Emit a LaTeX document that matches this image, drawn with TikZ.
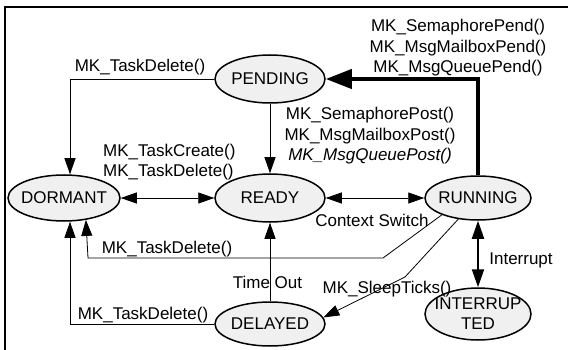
\documentclass[tikz,border=0pt]{standalone}
\usepackage{fontspec}
\setmainfont{Liberation Sans}
\usetikzlibrary{arrows.meta,shapes.geometric,calc}
\newcommand\ctrbox[1]{\makebox[0pt]{#1}}
\begin{document}
\begin{tikzpicture}[x=1pt,y=-1pt,
  state/.style={ellipse,draw,line width=1.5pt,fill=black!6,inner sep=0pt,font=\fontsize{17}{20}\selectfont},
  lbl/.style={font=\fontsize{17}{20.5}\selectfont,inner sep=0pt,align=center},
  conn/.style={line width=0.8pt,-{Triangle[length=16pt,width=11pt]}},
  dbl/.style={line width=0.8pt,{Triangle[length=16pt,width=11pt]}-{Triangle[length=16pt,width=11pt]}},
  intarr/.style={line width=2pt,{Triangle[length=18pt,width=12pt]}-{Triangle[length=18pt,width=12pt]}},
  thickarr/.style={line width=4pt,-{Triangle[length=26pt,width=19pt]}}]
\useasboundingbox (0,0) rectangle (568,350);
\draw[line width=1.5pt] (568,7) -- (5,7) -- (5,350);

\node[state,minimum width=110pt,minimum height=48pt] (pend) at (270,79) {\ctrbox{PENDING}};
\node[state,minimum width=112pt,minimum height=46pt] (dorm) at (64,198) {\ctrbox{DORMANT}};
\node[state,minimum width=110pt,minimum height=48pt] (ready) at (270,198) {\ctrbox{READY}};
\node[state,minimum width=106pt,minimum height=44pt] (run) at (478,198) {\ctrbox{RUNNING}};
\node[state,minimum width=106pt,minimum height=52pt,align=center] (intr) at (478,314) {\ctrbox{INTERRUP}\\\ctrbox{TED}};
\node[state,minimum width=110pt,minimum height=44pt] (del) at (270,324) {\ctrbox{DELAYED}};

\coordinate (b1) at (383,258);
\coordinate (b2) at (88,258);
\coordinate (b3) at (405,277);

\draw[conn] (pend.west) -| ($(dorm.north)+(6,0)$);
\draw[conn] (pend.south) -- (ready.north);
\draw[thickarr] (run.north) -- (run.north |- pend.east) -- (pend.east);
\draw[dbl] (dorm.east) -- (ready.west);
\draw[dbl] (ready.east) -- (run.west);
\draw[conn] (run.-155) -- (b1) -- (b2) -- (dorm.-45);
\draw[conn] (run.-133) -- (b3) -- (del.7);
\draw[conn] (del.north) -- (ready.south);
\draw[conn] (del.west) -| ($(dorm.south)+(6,0)$);
\draw[intarr] (run.south) -- (intr.north);

\node[lbl] (t1) at (140,67) {MK\_TaskDelete()};
\node[lbl] (t2) at (458,48) {MK\_SemaphorePend()\\MK\_MsgMailboxPend()\\MK\_MsgQueuePend()};
\node[lbl] (t3) at (370,136) {MK\_SemaphorePost()\\MK\_MsgMailboxPost()\\{\itshape MK\_MsgQueuePost()}};
\node[lbl,align=left,anchor=west] (t4) at (103,162) {MK\_TaskCreate()\\MK\_TaskDelete()};
\node[lbl] (t5) at (372,220) {Context Switch};
\node[lbl] (t6) at (167,249) {MK\_TaskDelete()};
\node[lbl] (t7) at (267.5,282) {Time Out};
\node[lbl] (t8) at (387,289) {MK\_SleepTicks()};
\node[lbl] (t9) at (521,260) {Interrupt};
\node[lbl] (t10) at (143,315) {MK\_TaskDelete()};
\end{tikzpicture}
\end{document}
